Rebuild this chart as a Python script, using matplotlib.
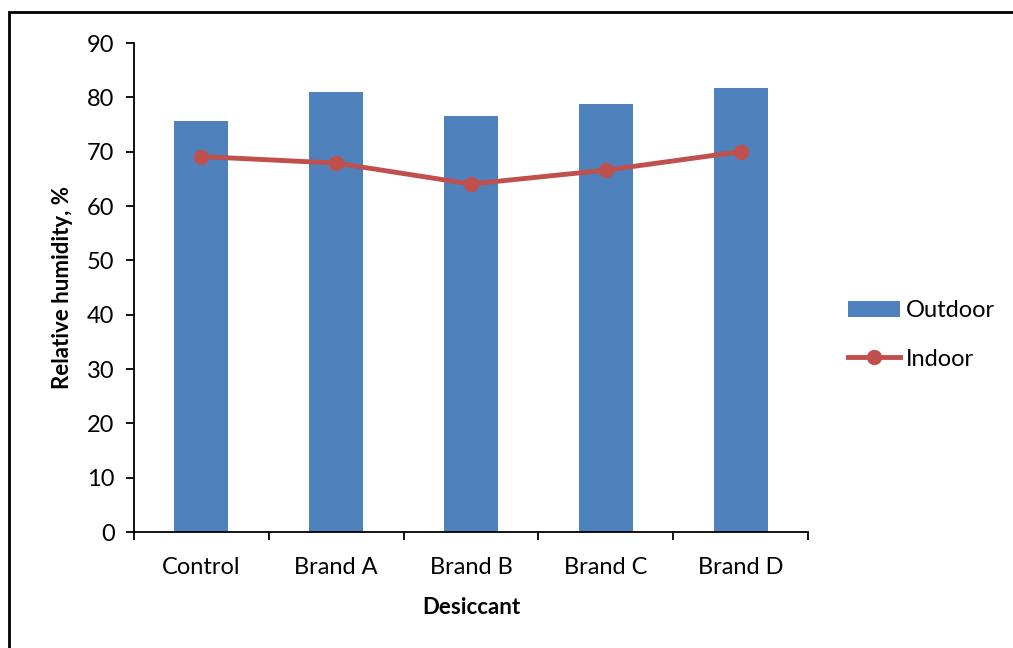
import matplotlib
matplotlib.use('Agg')
import numpy as np
import matplotlib.pyplot as plt
from matplotlib.patches import Rectangle

categories = ['Control', 'Brand A', 'Brand B', 'Brand C', 'Brand D']
outdoor = [75.7, 81.0, 76.6, 78.7, 81.8]
indoor = [69.1, 67.9, 64.05, 66.6, 70.0]

plt.rcParams['font.family'] = ['Lato', 'DejaVu Sans']

fig = plt.figure(figsize=(10.13, 6.48), dpi=100)
ax = fig.add_axes([0.1323, 0.179, 0.6653, 0.7546])

x = np.arange(len(categories))
bars = ax.bar(x, outdoor, width=0.4, color='#4F81BD', label='Outdoor', zorder=2)
line, = ax.plot(x, indoor, color='#C0504D', lw=3.5, marker='o', markersize=10,
                label='Indoor', zorder=3)

ax.set_xlim(-0.5, len(categories) - 0.5)
ax.set_ylim(0, 90)
ax.set_yticks(np.arange(0, 91, 10))
ax.set_xticks(x)
ax.set_xticklabels(categories)
ax.set_xticks(np.arange(-0.5, len(categories), 1), minor=True)
ax.tick_params(axis='x', which='major', length=0, pad=18, labelsize=17)
ax.tick_params(axis='x', which='minor', length=6, width=1.3, direction='out')
ax.tick_params(axis='y', length=6, width=1.3, direction='out', labelsize=17, pad=8)

for s in ['top', 'right']:
    ax.spines[s].set_visible(False)
for s in ['left', 'bottom']:
    ax.spines[s].set_linewidth(1.3)

ax.set_ylabel('Relative humidity, %', fontsize=16, fontweight='bold', labelpad=10)
ax.set_xlabel('Desiccant', fontsize=16, fontweight='bold', labelpad=14)

fig.legend([bars, line], ['Outdoor', 'Indoor'], loc='center left',
           bbox_to_anchor=(848 / 1013, 0.483), bbox_transform=fig.transFigure,
           frameon=False, fontsize=17, handlelength=2.2, handletextpad=0.25,
           labelspacing=1.15, borderpad=0, borderaxespad=0)

# outer frame of the chart area
fig.patches.append(Rectangle((8.5 / 1013, -0.1), 1.2, 1.1 - 12.5 / 648,
                             transform=fig.transFigure, fill=False,
                             edgecolor='black', lw=2))

fig.savefig('out.png', dpi=100)
